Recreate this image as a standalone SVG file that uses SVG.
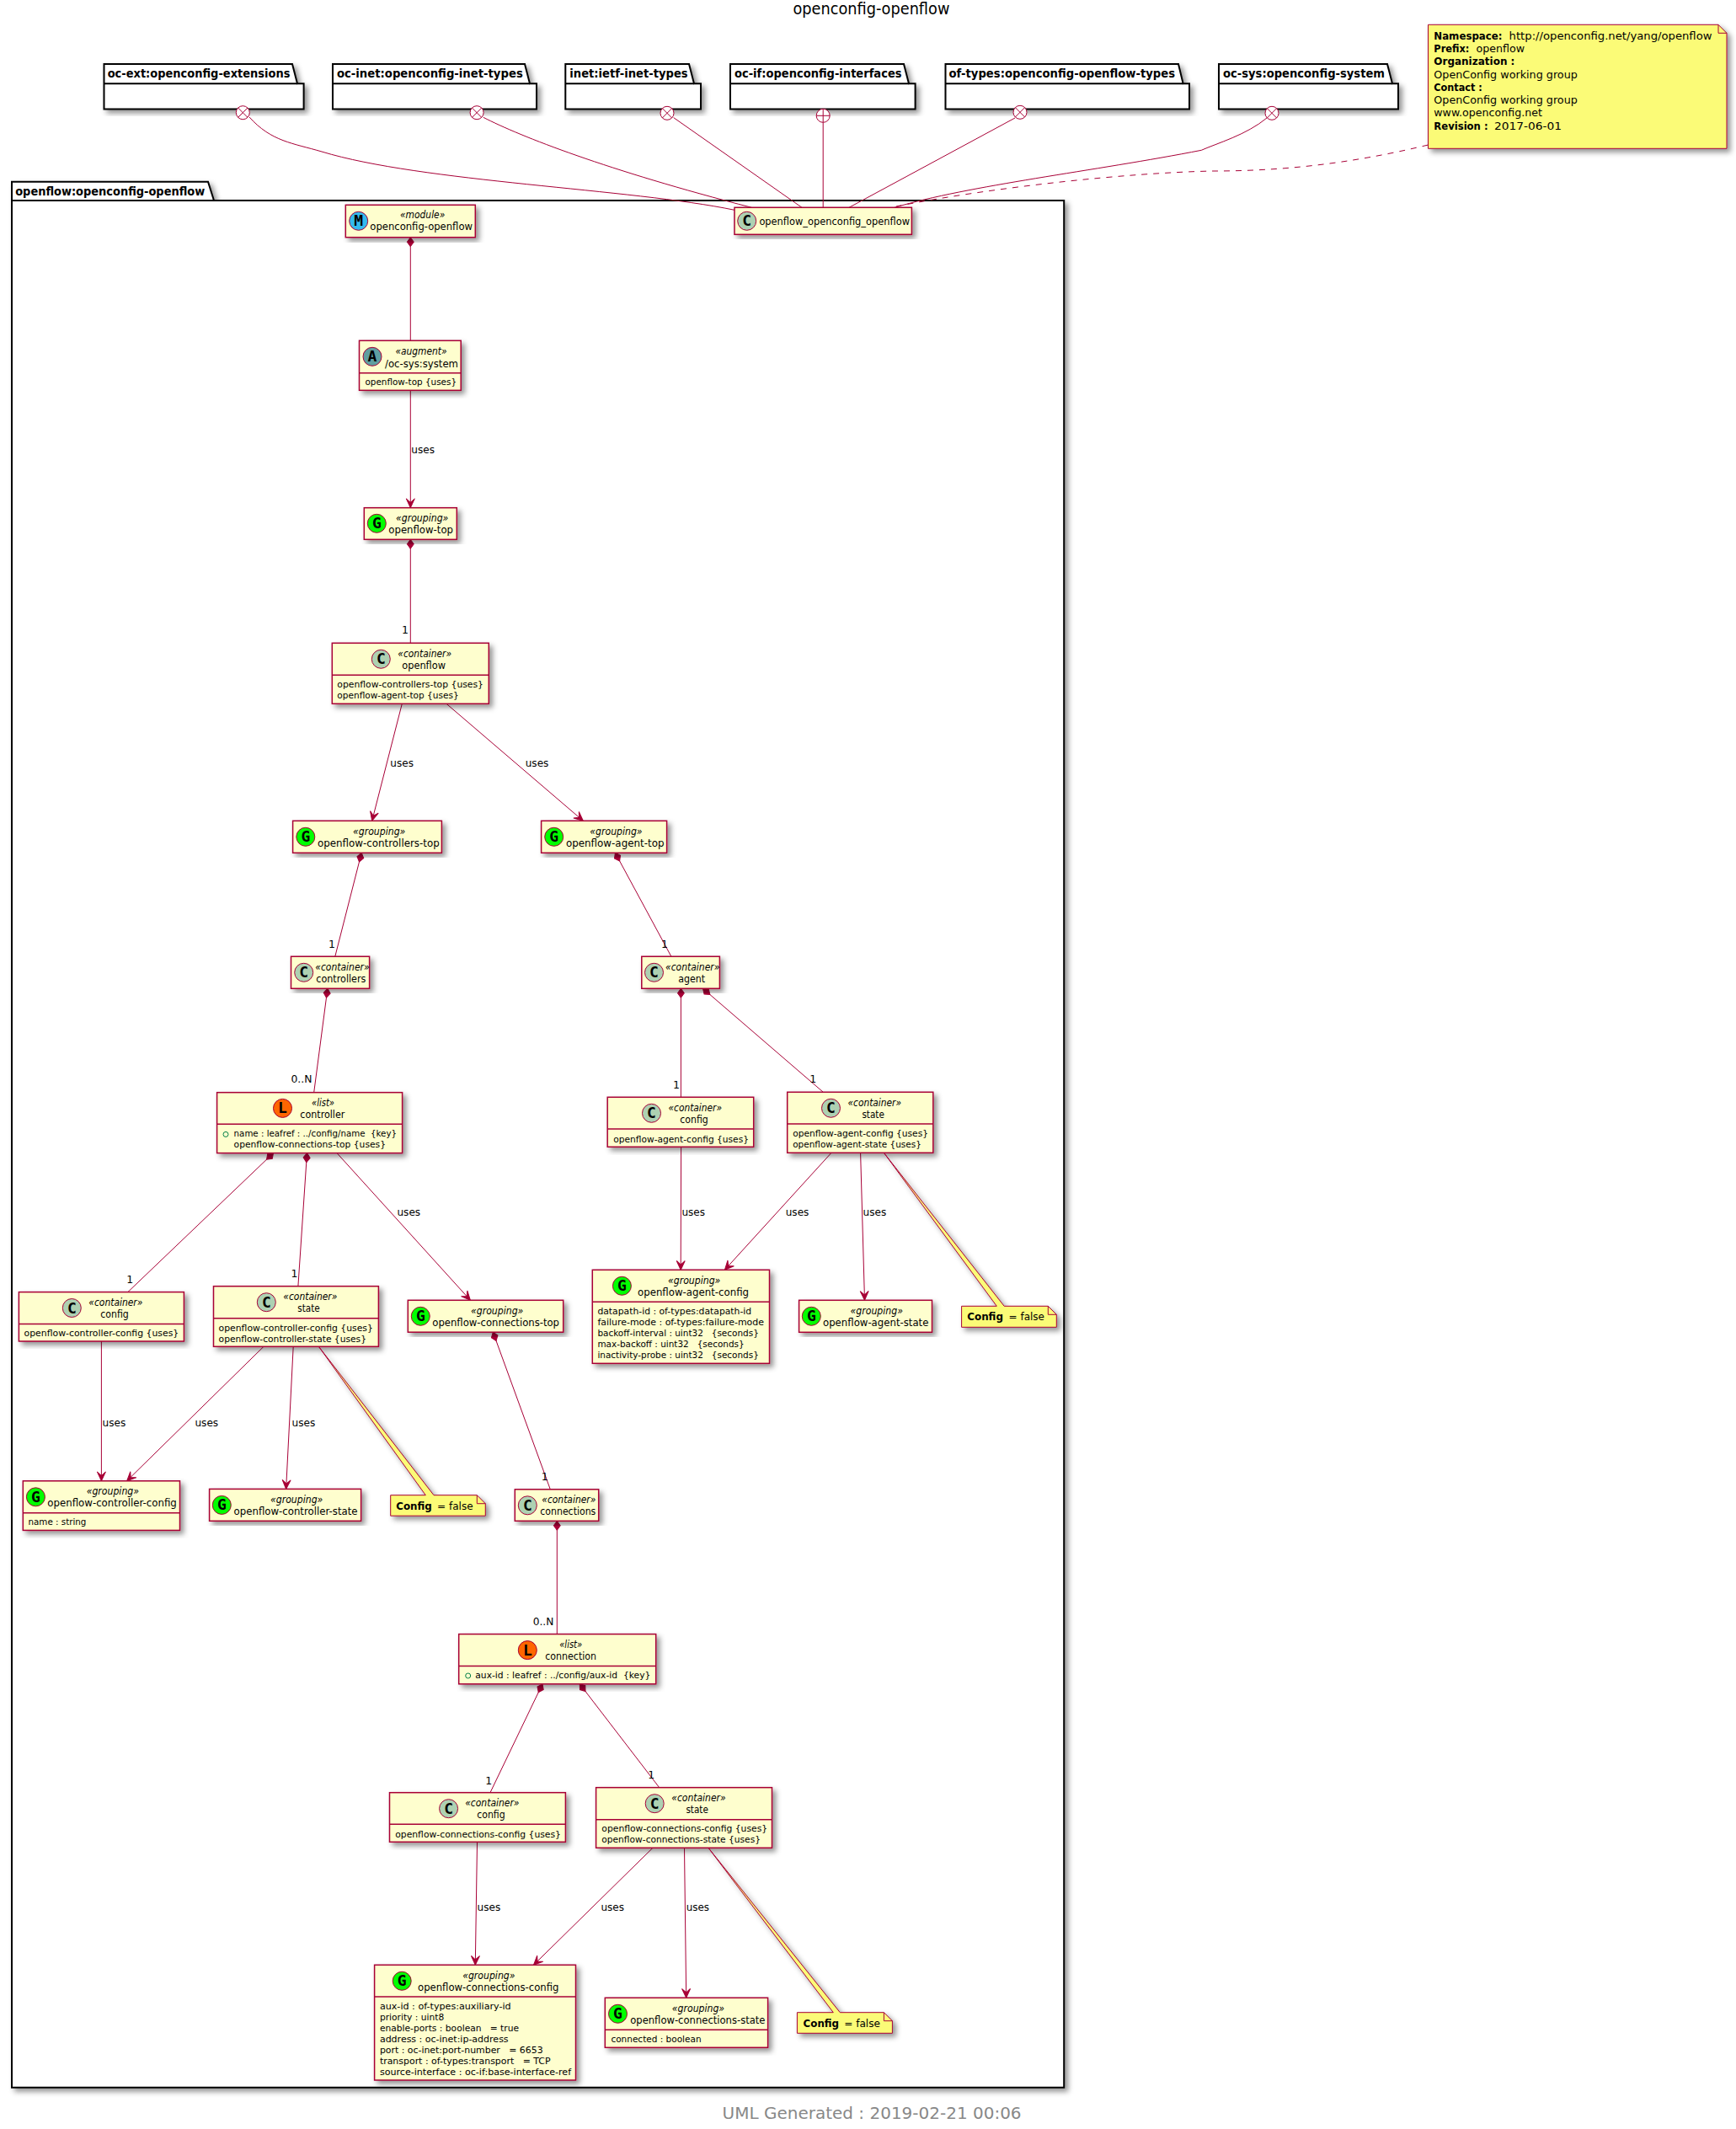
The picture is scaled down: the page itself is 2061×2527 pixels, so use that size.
<svg xmlns="http://www.w3.org/2000/svg" width="2061" height="2527" viewBox="0 0 2061 2527">
<style>
text{font-family:"DejaVu Sans","Liberation Sans",sans-serif;fill:#000}
.t{font-size:19px}
.ft{font-size:20px;fill:#888888}
.p{font-size:14px;font-weight:bold}
.s{font-size:12px;font-style:italic}
.n{font-size:13px}
.b{font-size:11px}
.l{font-size:12.5px}
.nb{font-size:12px;font-weight:bold}
.nt{font-size:13px;font-weight:bold}
.nr{font-size:12.5px}
.g{font-family:"DejaVu Sans Mono","Liberation Mono",monospace;font-size:18px;font-weight:bold;text-anchor:middle}
.box{fill:#FEFECE;stroke:#A80036;stroke-width:1.5;filter:url(#sh)}
.note{fill:#FBFB77;stroke:#A80036;stroke-width:1;filter:url(#sh)}
.pk{fill:#fff;stroke:#000;stroke-width:2;filter:url(#sh)}
.dv{stroke:#A80036;stroke-width:1.5}
.CC{fill:#ADD1B2}.CG{fill:#00FF00}.CL{fill:#FF6600}.CA{fill:#5F9EA0}.CM{fill:#33BBEE}
circle.k{stroke:#A80036;stroke-width:1}
#connectors path,#connectors line{fill:none;stroke:#A80036;stroke-width:1}
.dash{stroke-dasharray:7,7}
.arr{marker-end:url(#ah)}
.dia{marker-start:url(#di)}
.key{fill:none;stroke:#038048;stroke-width:1}
.mk{fill:#fff;stroke:#A80036;stroke-width:1}
</style>
<defs>
<filter id="sh" x="-10%" y="-10%" width="125%" height="125%"><feDropShadow dx="4" dy="4" stdDeviation="3" flood-color="#000" flood-opacity="0.42"/></filter>
<marker id="ah" markerUnits="userSpaceOnUse" markerWidth="14" markerHeight="14" refX="11.5" refY="7" orient="auto"><path d="M11.5 7L.7 2L5.2 7L.7 12Z" fill="#A80036" stroke="#A80036" stroke-width="1"/></marker>
<marker id="di" markerUnits="userSpaceOnUse" markerWidth="14" markerHeight="12" refX="1" refY="6" orient="auto"><path d="M1 6L6.5 2L12 6L6.5 10Z" fill="#A80036" stroke="#A80036" stroke-width="1"/></marker>
</defs>
<rect width="2061" height="2527" fill="#fff"/>
<text class="t" x="941.4" y="17" textLength="186" lengthAdjust="spacingAndGlyphs">openconfig-openflow</text>

<g id="pkg-openflow"><path class="pk" d="M14 238V215.7H247L254 238H1263.2V2477.7H14Z"/><line x1="14" y1="238" x2="254" y2="238" stroke="#000" stroke-width="2"/><text class="p" x="18.2" y="232" textLength="225" lengthAdjust="spacingAndGlyphs">openflow:openconfig-openflow</text></g>
<g id="pkg-oc-ext"><path class="pk" d="M123.5 99.3V76H347L353 99.3H360.6V129.5H123.5Z"/><line x1="123.5" y1="99.3" x2="353" y2="99.3" stroke="#000" stroke-width="2"/><text class="p" x="127.7" y="91.5" textLength="216.7" lengthAdjust="spacingAndGlyphs">oc-ext:openconfig-extensions</text></g>
<g id="pkg-oc-inet"><path class="pk" d="M395 99.3V76H623L629 99.3H637V129.5H395Z"/><line x1="395" y1="99.3" x2="629" y2="99.3" stroke="#000" stroke-width="2"/><text class="p" x="399.9" y="91.5" textLength="220.9" lengthAdjust="spacingAndGlyphs">oc-inet:openconfig-inet-types</text></g>
<g id="pkg-inet"><path class="pk" d="M671.3 99.3V76H818L824 99.3H832V129.5H671.3Z"/><line x1="671.3" y1="99.3" x2="824" y2="99.3" stroke="#000" stroke-width="2"/><text class="p" x="676.3" y="91.5" textLength="140.3" lengthAdjust="spacingAndGlyphs">inet:ietf-inet-types</text></g>
<g id="pkg-oc-if"><path class="pk" d="M867 99.3V76H1073L1079 99.3H1086.6V129.5H867Z"/><line x1="867" y1="99.3" x2="1079" y2="99.3" stroke="#000" stroke-width="2"/><text class="p" x="872" y="91.5" textLength="198.5" lengthAdjust="spacingAndGlyphs">oc-if:openconfig-interfaces</text></g>
<g id="pkg-of-types"><path class="pk" d="M1122.5 99.3V76H1399L1404.6 99.3H1412V129.5H1122.5Z"/><line x1="1122.5" y1="99.3" x2="1404.6" y2="99.3" stroke="#000" stroke-width="2"/><text class="p" x="1126.5" y="91.5" textLength="268.6" lengthAdjust="spacingAndGlyphs">of-types:openconfig-openflow-types</text></g>
<g id="pkg-oc-sys"><path class="pk" d="M1447 99.3V76H1647L1653 99.3H1660V129.5H1447Z"/><line x1="1447" y1="99.3" x2="1653" y2="99.3" stroke="#000" stroke-width="2"/><text class="p" x="1452" y="91.5" textLength="192" lengthAdjust="spacingAndGlyphs">oc-sys:openconfig-system</text></g>

<g id="connectors">
<path d="M296 139C322 168 348 170 382 180C500 216 750 224 872 249.3"/>
<path d="M573.8 139.3C618 162 720 202 892.3 246.3"/>
<line x1="799.7" y1="139.6" x2="952" y2="246.3"/>
<line x1="977.2" y1="145.3" x2="977.2" y2="246.3"/>
<line x1="1205" y1="140" x2="1008" y2="246.3"/>
<path d="M1504 140C1480 160 1445 170 1426.3 178.3C1300 203 1150 220 1062 246.3"/>
<path class="dash" d="M1695.5 172C1600 195 1520 203 1440 203C1340 205 1180 222 1064 245"/>
<line class="dia" x1="487.3" y1="281.7" x2="487.3" y2="404.3"/>
<line class="arr" x1="487.3" y1="463.3" x2="487.3" y2="602.7"/>
<line class="dia" x1="487.3" y1="640.3" x2="487.3" y2="763.3"/>
<line class="arr" x1="477.3" y1="835.3" x2="441.7" y2="974.3"/>
<line class="arr" x1="530" y1="835.3" x2="692.3" y2="974.3"/>
<line class="dia" x1="429.2" y1="1012.3" x2="397.8" y2="1135.3"/>
<line class="dia" x1="730.4" y1="1012.3" x2="796.9" y2="1135.3"/>
<line class="dia" x1="388.9" y1="1173.3" x2="372.7" y2="1296.7"/>
<line class="dia" x1="808.4" y1="1173.3" x2="808.4" y2="1302.3"/>
<line class="dia" x1="834.5" y1="1173.3" x2="977.3" y2="1296.3"/>
<line class="dia" x1="324.5" y1="1368.6" x2="151.8" y2="1533.6"/>
<line class="dia" x1="364.5" y1="1368.6" x2="353.9" y2="1526.7"/>
<line class="arr" x1="400" y1="1368.6" x2="558.4" y2="1543.3"/>
<line class="arr" x1="120.4" y1="1592" x2="120.4" y2="1757.8"/>
<line class="arr" x1="313" y1="1598.3" x2="150.6" y2="1757.8"/>
<line class="arr" x1="348.2" y1="1598.3" x2="339.6" y2="1767.4"/>
<line class="dia" x1="585.3" y1="1581.2" x2="653.3" y2="1767.8"/>
<line class="dia" x1="661.3" y1="1805.3" x2="661.3" y2="1939.6"/>
<line class="dia" x1="644" y1="1998.8" x2="582" y2="2127.7"/>
<line class="dia" x1="688.3" y1="1998.8" x2="782.7" y2="2121.7"/>
<line class="arr" x1="808.6" y1="1361.3" x2="808.2" y2="1507.3"/>
<line class="arr" x1="987" y1="1368.3" x2="860.4" y2="1507.3"/>
<line class="arr" x1="1021.6" y1="1368.3" x2="1026.5" y2="1543.3"/>
<line class="arr" x1="566.5" y1="2186.3" x2="564.3" y2="2332.3"/>
<line class="arr" x1="775" y1="2193.3" x2="633.5" y2="2332.3"/>
<line class="arr" x1="812.5" y1="2193.3" x2="814.7" y2="2371.3"/>
<circle class="mk" cx="288.3" cy="133.7" r="8"/><path d="M282.6 128L294 139.4M294 128L282.6 139.4"/>
<circle class="mk" cx="566.1" cy="133.7" r="8"/><path d="M560.4 128L571.8 139.4M571.8 128L560.4 139.4"/>
<circle class="mk" cx="792" cy="134.3" r="8"/><path d="M786.3 128.6L797.7 140M797.7 128.6L786.3 140"/>
<circle class="mk" cx="977.2" cy="137.3" r="8"/><path d="M969.2 137.3H985.2M977.2 129.3V145.3"/>
<circle class="mk" cx="1211" cy="133.3" r="8"/><path d="M1205.3 127.6L1216.7 139M1216.7 127.6L1205.3 139"/>
<circle class="mk" cx="1510" cy="134.3" r="8"/><path d="M1504.3 128.6L1515.7 140M1515.7 128.6L1504.3 140"/>
<g id="connector-labels">
<text class="l" x="488.3" y="537.7" textLength="27.7" lengthAdjust="spacingAndGlyphs">uses</text>
<text class="l" x="477" y="751.7">1</text>
<text class="l" x="463.3" y="909.7" textLength="27.7" lengthAdjust="spacingAndGlyphs">uses</text>
<text class="l" x="623.7" y="909.7" textLength="27.7" lengthAdjust="spacingAndGlyphs">uses</text>
<text class="l" x="390" y="1125">1</text>
<text class="l" x="785" y="1125">1</text>
<text class="l" x="345.5" y="1284.7" textLength="25" lengthAdjust="spacingAndGlyphs">0..N</text>
<text class="l" x="799" y="1292">1</text>
<text class="l" x="961.3" y="1285">1</text>
<text class="l" x="150.3" y="1522.5">1</text>
<text class="l" x="345.4" y="1516">1</text>
<text class="l" x="471.4" y="1442.5" textLength="27.8" lengthAdjust="spacingAndGlyphs">uses</text>
<text class="l" x="121.6" y="1692.8" textLength="27.8" lengthAdjust="spacingAndGlyphs">uses</text>
<text class="l" x="231.4" y="1692.8" textLength="27.8" lengthAdjust="spacingAndGlyphs">uses</text>
<text class="l" x="346.5" y="1692.8" textLength="27.8" lengthAdjust="spacingAndGlyphs">uses</text>
<text class="l" x="642.7" y="1757">1</text>
<text class="l" x="632.7" y="1929.4" textLength="24.6" lengthAdjust="spacingAndGlyphs">0..N</text>
<text class="l" x="576.3" y="2117.6">1</text>
<text class="l" x="769.3" y="2111">1</text>
<text class="l" x="809.4" y="1442.7" textLength="27.6" lengthAdjust="spacingAndGlyphs">uses</text>
<text class="l" x="932.7" y="1442.7" textLength="27.7" lengthAdjust="spacingAndGlyphs">uses</text>
<text class="l" x="1024.5" y="1442.7" textLength="27.7" lengthAdjust="spacingAndGlyphs">uses</text>
<text class="l" x="566.5" y="2267.7" textLength="27.7" lengthAdjust="spacingAndGlyphs">uses</text>
<text class="l" x="713.4" y="2267.7" textLength="27.6" lengthAdjust="spacingAndGlyphs">uses</text>
<text class="l" x="814.7" y="2267.7" textLength="27.3" lengthAdjust="spacingAndGlyphs">uses</text>
</g>
</g>

<g id="n-openflow_openconfig_openflow"><rect class="box" x="872" y="246.3" width="210.4" height="32"/><circle class="k CC" cx="886.7" cy="262.3" r="11"/><text class="g" x="886.7" y="268.3">C</text><text class="n" x="901.4" y="266.7" textLength="178.6" lengthAdjust="spacingAndGlyphs">openflow_openconfig_openflow</text></g>

<g id="n-module"><rect class="box" x="410.3" y="243.3" width="154" height="38.4"/><circle class="k CM" cx="425.7" cy="262.3" r="11"/><text class="g" x="425.7" y="268.3">M</text><text class="s" x="475" y="259" textLength="53.3" lengthAdjust="spacingAndGlyphs">«module»</text><text class="n" x="439.3" y="273" textLength="121.7" lengthAdjust="spacingAndGlyphs">openconfig-openflow</text></g>

<g id="n-augment"><rect class="box" x="426.5" y="404.3" width="120.7" height="59"/><line class="dv" x1="426.5" y1="442.7" x2="547.2" y2="442.7"/><circle class="k CA" cx="442" cy="423.3" r="11"/><text class="g" x="442" y="429.3">A</text><text class="s" x="469.5" y="421" textLength="61" lengthAdjust="spacingAndGlyphs">«augment»</text><text class="n" x="457" y="435.5" textLength="87" lengthAdjust="spacingAndGlyphs">/oc-sys:system</text><text class="b" x="433.5" y="457" textLength="108.5" lengthAdjust="spacingAndGlyphs">openflow-top {uses}</text></g>

<g id="n-openflow-top"><rect class="box" x="432.3" y="602.7" width="110" height="37.6"/><circle class="k CG" cx="447.3" cy="621.3" r="11"/><text class="g" x="447.3" y="627.3">G</text><text class="s" x="470" y="619" textLength="62.3" lengthAdjust="spacingAndGlyphs">«grouping»</text><text class="n" x="461.3" y="632.7" textLength="76.7" lengthAdjust="spacingAndGlyphs">openflow-top</text></g>

<g id="n-openflow"><rect class="box" x="394.3" y="763.3" width="186" height="72"/><line class="dv" x1="394.3" y1="801.3" x2="580.3" y2="801.3"/><circle class="k CC" cx="452.3" cy="782.3" r="11"/><text class="g" x="452.3" y="788.3">C</text><text class="s" x="472.3" y="780" textLength="63.7" lengthAdjust="spacingAndGlyphs">«container»</text><text class="n" x="477.3" y="794" textLength="51.7" lengthAdjust="spacingAndGlyphs">openflow</text><text class="b" x="400.3" y="815.7" textLength="173.7" lengthAdjust="spacingAndGlyphs">openflow-controllers-top {uses}</text><text class="b" x="400.3" y="828.7" textLength="144.4" lengthAdjust="spacingAndGlyphs">openflow-agent-top {uses}</text></g>

<g id="n-openflow-controllers-top"><rect class="box" x="347.6" y="974.3" width="176.8" height="38"/><circle class="k CG" cx="362.8" cy="993.3" r="11"/><text class="g" x="362.8" y="999.3">G</text><text class="s" x="419" y="991" textLength="62.3" lengthAdjust="spacingAndGlyphs">«grouping»</text><text class="n" x="376.9" y="1005" textLength="144.9" lengthAdjust="spacingAndGlyphs">openflow-controllers-top</text></g>

<g id="n-openflow-agent-top"><rect class="box" x="642.6" y="974.3" width="149" height="38"/><circle class="k CG" cx="657.7" cy="993.3" r="11"/><text class="g" x="657.7" y="999.3">G</text><text class="s" x="700.3" y="991" textLength="62.3" lengthAdjust="spacingAndGlyphs">«grouping»</text><text class="n" x="671.9" y="1005" textLength="116.6" lengthAdjust="spacingAndGlyphs">openflow-agent-top</text></g>

<g id="n-controllers"><rect class="box" x="345.5" y="1135.3" width="93.1" height="38"/><circle class="k CC" cx="360.7" cy="1154.3" r="11"/><text class="g" x="360.7" y="1160.3">C</text><text class="s" x="374.3" y="1152" textLength="64.3" lengthAdjust="spacingAndGlyphs">«container»</text><text class="n" x="375.3" y="1166" textLength="59.1" lengthAdjust="spacingAndGlyphs">controllers</text></g>

<g id="n-agent"><rect class="box" x="761.8" y="1135.3" width="92.6" height="38"/><circle class="k CC" cx="776.5" cy="1154.3" r="11"/><text class="g" x="776.5" y="1160.3">C</text><text class="s" x="790" y="1152" textLength="64.4" lengthAdjust="spacingAndGlyphs">«container»</text><text class="n" x="805.2" y="1166" textLength="31.9" lengthAdjust="spacingAndGlyphs">agent</text></g>

<g id="n-controller"><rect class="box" x="257.6" y="1296.7" width="220" height="71.9"/><line class="dv" x1="257.6" y1="1334.2" x2="477.6" y2="1334.2"/><circle class="k CL" cx="335.5" cy="1315.4" r="11"/><text class="g" x="335.5" y="1321.4">L</text><text class="s" x="370" y="1313" textLength="27" lengthAdjust="spacingAndGlyphs">«list»</text><text class="n" x="356.3" y="1327" textLength="53.1" lengthAdjust="spacingAndGlyphs">controller</text><circle class="key" cx="268" cy="1346.4" r="3"/><text class="b" x="277.6" y="1349" textLength="193.4" lengthAdjust="spacingAndGlyphs" xml:space="preserve">name : leafref : ../config/name  {key}</text><text class="b" x="277.6" y="1362" textLength="180.4" lengthAdjust="spacingAndGlyphs">openflow-connections-top {uses}</text></g>

<g id="n-agent-config-c"><rect class="box" x="721.2" y="1302.3" width="173.5" height="59"/><line class="dv" x1="721.2" y1="1340" x2="894.7" y2="1340"/><circle class="k CC" cx="773.5" cy="1321.3" r="11"/><text class="g" x="773.5" y="1327.3">C</text><text class="s" x="793.5" y="1319" textLength="63.5" lengthAdjust="spacingAndGlyphs">«container»</text><text class="n" x="807.3" y="1333" textLength="33.5" lengthAdjust="spacingAndGlyphs">config</text><text class="b" x="728.2" y="1356" textLength="160.8" lengthAdjust="spacingAndGlyphs">openflow-agent-config {uses}</text></g>

<g id="n-agent-state-c"><rect class="box" x="934.7" y="1296.3" width="173.1" height="72"/><line class="dv" x1="934.7" y1="1334" x2="1107.8" y2="1334"/><circle class="k CC" cx="986.5" cy="1315.3" r="11"/><text class="g" x="986.5" y="1321.3">C</text><text class="s" x="1006.5" y="1313" textLength="63.5" lengthAdjust="spacingAndGlyphs">«container»</text><text class="n" x="1023.4" y="1327" textLength="26.5" lengthAdjust="spacingAndGlyphs">state</text><text class="b" x="941.2" y="1349" textLength="160.8" lengthAdjust="spacingAndGlyphs">openflow-agent-config {uses}</text><text class="b" x="941.2" y="1362" textLength="152.7" lengthAdjust="spacingAndGlyphs">openflow-agent-state {uses}</text></g>

<g id="n-openflow-agent-config"><rect class="box" x="703.3" y="1507.3" width="210.2" height="111"/><line class="dv" x1="703.3" y1="1545.3" x2="913.5" y2="1545.3"/><circle class="k CG" cx="738.4" cy="1526.3" r="11"/><text class="g" x="738.4" y="1532.3">G</text><text class="s" x="793" y="1524" textLength="62.3" lengthAdjust="spacingAndGlyphs">«grouping»</text><text class="n" x="757" y="1538" textLength="132" lengthAdjust="spacingAndGlyphs">openflow-agent-config</text>
<text class="b" x="709.4" y="1560" textLength="182.8" lengthAdjust="spacingAndGlyphs">datapath-id : of-types:datapath-id</text><text class="b" x="709.4" y="1573" textLength="197.6" lengthAdjust="spacingAndGlyphs">failure-mode : of-types:failure-mode</text><text class="b" x="709.4" y="1586" textLength="191.4" lengthAdjust="spacingAndGlyphs" xml:space="preserve">backoff-interval : uint32   {seconds}</text><text class="b" x="709.4" y="1599" textLength="174.3" lengthAdjust="spacingAndGlyphs" xml:space="preserve">max-backoff : uint32   {seconds}</text><text class="b" x="709.4" y="1612" textLength="191.4" lengthAdjust="spacingAndGlyphs" xml:space="preserve">inactivity-probe : uint32   {seconds}</text></g>

<g id="n-openflow-agent-state"><rect class="box" x="948.6" y="1543.3" width="157.9" height="38"/><circle class="k CG" cx="963.3" cy="1562.3" r="11"/><text class="g" x="963.3" y="1568.3">G</text><text class="s" x="1009.6" y="1560" textLength="62.3" lengthAdjust="spacingAndGlyphs">«grouping»</text><text class="n" x="977" y="1574" textLength="125.4" lengthAdjust="spacingAndGlyphs">openflow-agent-state</text></g>

<g id="n-note-agent-state"><path class="note" d="M1049.4 1368.3L1183.3 1550.3H1141.6V1575.3H1254.3V1560.3L1244.3 1550.3H1192.2Z"/><path d="M1244.3 1550.3V1560.3H1254.3" fill="none" stroke="#A80036"/><text class="nt" x="1148.2" y="1567.3" textLength="42.8" lengthAdjust="spacingAndGlyphs">Config</text><text class="nr" x="1197.6" y="1567.3" textLength="42.4" lengthAdjust="spacingAndGlyphs">= false</text></g>

<g id="n-controller-config-c"><rect class="box" x="22.4" y="1533.6" width="196" height="58.4"/><line class="dv" x1="22.4" y1="1571.5" x2="218.4" y2="1571.5"/><circle class="k CC" cx="85.3" cy="1552.5" r="11"/><text class="g" x="85.3" y="1558.5">C</text><text class="s" x="105.3" y="1550" textLength="64.1" lengthAdjust="spacingAndGlyphs">«container»</text><text class="n" x="119.3" y="1564" textLength="33.5" lengthAdjust="spacingAndGlyphs">config</text><text class="b" x="28.6" y="1586" textLength="183.6" lengthAdjust="spacingAndGlyphs">openflow-controller-config {uses}</text></g>

<g id="n-controller-state-c"><rect class="box" x="253.5" y="1526.7" width="195.9" height="71.6"/><line class="dv" x1="253.5" y1="1564.7" x2="449.4" y2="1564.7"/><circle class="k CC" cx="316.3" cy="1545.7" r="11"/><text class="g" x="316.3" y="1551.7">C</text><text class="s" x="336.3" y="1543" textLength="64.1" lengthAdjust="spacingAndGlyphs">«container»</text><text class="n" x="353.2" y="1557" textLength="26.5" lengthAdjust="spacingAndGlyphs">state</text><text class="b" x="259.6" y="1580" textLength="183.3" lengthAdjust="spacingAndGlyphs">openflow-controller-config {uses}</text><text class="b" x="259.6" y="1593" textLength="175.4" lengthAdjust="spacingAndGlyphs">openflow-controller-state {uses}</text></g>

<g id="n-openflow-connections-top"><rect class="box" x="484.3" y="1543.3" width="184.4" height="37.9"/><circle class="k CG" cx="499.3" cy="1562.3" r="11"/><text class="g" x="499.3" y="1568.3">G</text><text class="s" x="559" y="1560" textLength="62.3" lengthAdjust="spacingAndGlyphs">«grouping»</text><text class="n" x="513.3" y="1574" textLength="150.7" lengthAdjust="spacingAndGlyphs">openflow-connections-top</text></g>

<g id="n-openflow-controller-config"><rect class="box" x="27.3" y="1757.8" width="186.2" height="58.6"/><line class="dv" x1="27.3" y1="1795.7" x2="213.5" y2="1795.7"/><circle class="k CG" cx="42.4" cy="1776.8" r="11"/><text class="g" x="42.4" y="1782.8">G</text><text class="s" x="102.7" y="1774" textLength="62.3" lengthAdjust="spacingAndGlyphs">«grouping»</text><text class="n" x="56.3" y="1788" textLength="153.5" lengthAdjust="spacingAndGlyphs">openflow-controller-config</text><text class="b" x="33.5" y="1810" textLength="68.9" lengthAdjust="spacingAndGlyphs">name : string</text></g>

<g id="n-openflow-controller-state"><rect class="box" x="248.6" y="1767.4" width="180" height="37.9"/><circle class="k CG" cx="263.3" cy="1786.4" r="11"/><text class="g" x="263.3" y="1792.4">G</text><text class="s" x="321" y="1783.7" textLength="62.3" lengthAdjust="spacingAndGlyphs">«grouping»</text><text class="n" x="277.6" y="1797.7" textLength="146.9" lengthAdjust="spacingAndGlyphs">openflow-controller-state</text></g>

<g id="n-note-controller-state"><path class="note" d="M378.4 1598.3L505.3 1774.7H463.7V1799.2H576.3V1784.7L566.3 1774.7H515Z"/><path d="M566.3 1774.7V1784.7H576.3" fill="none" stroke="#A80036"/><text class="nt" x="470.2" y="1792" textLength="42.5" lengthAdjust="spacingAndGlyphs">Config</text><text class="nr" x="519" y="1792" textLength="42.6" lengthAdjust="spacingAndGlyphs">= false</text></g>

<g id="n-connections"><rect class="box" x="611.3" y="1767.8" width="99.4" height="37.5"/><circle class="k CC" cx="626.3" cy="1786.8" r="11"/><text class="g" x="626.3" y="1792.8">C</text><text class="s" x="643.3" y="1784" textLength="64" lengthAdjust="spacingAndGlyphs">«container»</text><text class="n" x="641.3" y="1798" textLength="66" lengthAdjust="spacingAndGlyphs">connections</text></g>

<g id="n-connection"><rect class="box" x="544.7" y="1939.6" width="234" height="59.2"/><line class="dv" x1="544.7" y1="1977.6" x2="778.7" y2="1977.6"/><circle class="k CL" cx="626.3" cy="1958.6" r="11"/><text class="g" x="626.3" y="1964.6">L</text><text class="s" x="664.2" y="1956" textLength="27" lengthAdjust="spacingAndGlyphs">«list»</text><text class="n" x="647.3" y="1970" textLength="60.7" lengthAdjust="spacingAndGlyphs">connection</text><circle class="key" cx="555.7" cy="1989" r="3"/><text class="b" x="564.3" y="1992" textLength="208" lengthAdjust="spacingAndGlyphs" xml:space="preserve">aux-id : leafref : ../config/aux-id  {key}</text></g>

<g id="n-connections-config-c"><rect class="box" x="462.5" y="2127.7" width="208.9" height="58.6"/><line class="dv" x1="462.5" y1="2165.3" x2="671.4" y2="2165.3"/><circle class="k CC" cx="532.6" cy="2146.7" r="11"/><text class="g" x="532.6" y="2152.7">C</text><text class="s" x="552.2" y="2144" textLength="64.3" lengthAdjust="spacingAndGlyphs">«container»</text><text class="n" x="566.2" y="2158" textLength="33.5" lengthAdjust="spacingAndGlyphs">config</text><text class="b" x="469.2" y="2181" textLength="196.8" lengthAdjust="spacingAndGlyphs">openflow-connections-config {uses}</text></g>

<g id="n-connections-state-c"><rect class="box" x="707.6" y="2121.7" width="208.9" height="71.6"/><line class="dv" x1="707.6" y1="2159.7" x2="916.5" y2="2159.7"/><circle class="k CC" cx="777.2" cy="2140.7" r="11"/><text class="g" x="777.2" y="2146.7">C</text><text class="s" x="797.3" y="2138" textLength="64.3" lengthAdjust="spacingAndGlyphs">«container»</text><text class="n" x="814.4" y="2152" textLength="26.5" lengthAdjust="spacingAndGlyphs">state</text><text class="b" x="714.3" y="2174" textLength="196.9" lengthAdjust="spacingAndGlyphs">openflow-connections-config {uses}</text><text class="b" x="714.3" y="2187" textLength="188.7" lengthAdjust="spacingAndGlyphs">openflow-connections-state {uses}</text></g>

<g id="n-openflow-connections-config"><rect class="box" x="444.6" y="2332.3" width="238.9" height="136.7"/><line class="dv" x1="444.6" y1="2370" x2="683.5" y2="2370"/><circle class="k CG" cx="477.2" cy="2351.3" r="11"/><text class="g" x="477.2" y="2357.3">G</text><text class="s" x="549.2" y="2349" textLength="62.3" lengthAdjust="spacingAndGlyphs">«grouping»</text><text class="n" x="496" y="2363" textLength="167.4" lengthAdjust="spacingAndGlyphs">openflow-connections-config</text>
<text class="b" x="450.9" y="2385" textLength="155.8" lengthAdjust="spacingAndGlyphs">aux-id : of-types:auxiliary-id</text><text class="b" x="450.9" y="2398" textLength="76.3" lengthAdjust="spacingAndGlyphs">priority : uint8</text><text class="b" x="450.9" y="2411" textLength="165.1" lengthAdjust="spacingAndGlyphs" xml:space="preserve">enable-ports : boolean   = true</text><text class="b" x="450.9" y="2424" textLength="152.7" lengthAdjust="spacingAndGlyphs">address : oc-inet:ip-address</text><text class="b" x="450.9" y="2437" textLength="193.7" lengthAdjust="spacingAndGlyphs" xml:space="preserve">port : oc-inet:port-number   = 6653</text><text class="b" x="450.9" y="2450" textLength="202.7" lengthAdjust="spacingAndGlyphs" xml:space="preserve">transport : of-types:transport   = TCP</text><text class="b" x="450.9" y="2463" textLength="227.2" lengthAdjust="spacingAndGlyphs">source-interface : oc-if:base-interface-ref</text></g>

<g id="n-openflow-connections-state"><rect class="box" x="718.3" y="2371.3" width="193.3" height="59"/><line class="dv" x1="718.3" y1="2409.3" x2="911.6" y2="2409.3"/><circle class="k CG" cx="733.5" cy="2390.3" r="11"/><text class="g" x="733.5" y="2396.3">G</text><text class="s" x="797.8" y="2388" textLength="62.3" lengthAdjust="spacingAndGlyphs">«grouping»</text><text class="n" x="748.2" y="2402" textLength="160.3" lengthAdjust="spacingAndGlyphs">openflow-connections-state</text><text class="b" x="725.4" y="2424" textLength="107.2" lengthAdjust="spacingAndGlyphs">connected : boolean</text></g>

<g id="n-note-connections-state"><path class="note" d="M841 2193.3L989.3 2388.7H946.4V2413.3H1059.4V2398.7L1049.4 2388.7H997.3Z"/><path d="M1049.4 2388.7V2398.7H1059.4" fill="none" stroke="#A80036"/><text class="nt" x="953.6" y="2405.7" textLength="42.4" lengthAdjust="spacingAndGlyphs">Config</text><text class="nr" x="1002.2" y="2405.7" textLength="42.8" lengthAdjust="spacingAndGlyphs">= false</text></g>

<g id="n-note-module"><path class="note" d="M1695.5 29.3H2040L2050 39.3V176.3H1695.5Z"/><path d="M2040 29.3V39.3H2050" fill="none" stroke="#A80036"/>
<text class="nb" x="1702.3" y="47" textLength="81.2" lengthAdjust="spacingAndGlyphs">Namespace:</text><text class="nr" x="1791.6" y="47" textLength="240.9" lengthAdjust="spacingAndGlyphs">http://openconfig.net/yang/openflow</text>
<text class="nb" x="1702.3" y="62" textLength="42" lengthAdjust="spacingAndGlyphs">Prefix:</text><text class="nr" x="1752.4" y="62" textLength="57.6" lengthAdjust="spacingAndGlyphs">openflow</text>
<text class="nb" x="1702.3" y="77" textLength="96.1" lengthAdjust="spacingAndGlyphs">Organization :</text>
<text class="nr" x="1702.3" y="92.5" textLength="170.5" lengthAdjust="spacingAndGlyphs">OpenConfig working group</text>
<text class="nb" x="1702.3" y="107.5" textLength="57.5" lengthAdjust="spacingAndGlyphs">Contact :</text>
<text class="nr" x="1702.3" y="122.5" textLength="170.5" lengthAdjust="spacingAndGlyphs">OpenConfig working group</text>
<text class="nr" x="1702.3" y="138" textLength="128.6" lengthAdjust="spacingAndGlyphs">www.openconfig.net</text>
<text class="nb" x="1702.3" y="153.5" textLength="64.3" lengthAdjust="spacingAndGlyphs">Revision :</text><text class="nr" x="1774" y="153.5" textLength="80" lengthAdjust="spacingAndGlyphs">2017-06-01</text></g>

<text class="ft" x="857.6" y="2515" textLength="355" lengthAdjust="spacingAndGlyphs">UML Generated : 2019-02-21 00:06</text>
</svg>
